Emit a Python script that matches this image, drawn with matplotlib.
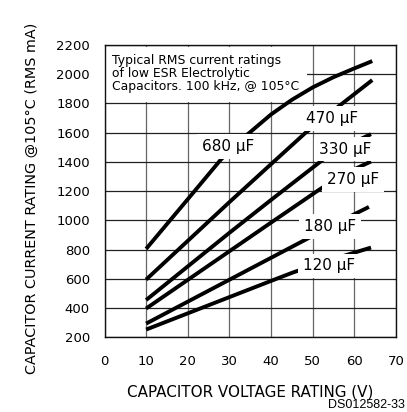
import matplotlib
matplotlib.use("Agg")
import matplotlib.pyplot as plt
from matplotlib.patches import Rectangle

plt.rcParams['font.family'] = ['DejaVu Sans']

# Ripple-current rating curves (voltage in V, current in mA RMS)
v_680 = [10, 20, 28, 34, 40, 45, 50, 55, 60, 64.3]
i_680 = [805, 1145, 1418, 1580, 1725, 1825, 1910, 1980, 2040, 2090]

v_470 = [10, 20, 30, 40, 48.3, 56.4, 64.3]
i_470 = [595, 860, 1125, 1385, 1600, 1784, 1960]

v_330 = [10, 20, 30, 40, 52.3, 58, 64]
i_330 = [455, 685, 915, 1140, 1412, 1510, 1590]

v_270 = [10, 20, 30, 40, 51.4, 57, 64]
i_270 = [397, 593, 789, 985, 1207, 1310, 1403]

v_180 = [10, 20, 30, 40, 48.8, 56, 63.5]
i_180 = [294, 444, 594, 744, 876, 985, 1092]

v_120 = [10, 20, 30, 40, 45.2, 52, 58.7, 64]
i_120 = [253, 364, 475, 586, 643, 710, 768, 814]

curve_labels = ["680 \u00b5F", "470 \u00b5F", "330 \u00b5F", "270 \u00b5F", "180 \u00b5F", "120 \u00b5F"]
label_pos = [(29.7, 1505), (54.6, 1695), (57.8, 1488), (59.7, 1282), (54.2, 957), (54.0, 688)]

x_ticks = [0, 10, 20, 30, 40, 50, 60, 70]
y_ticks = [200, 400, 600, 800, 1000, 1200, 1400, 1600, 1800, 2000, 2200]

fig = plt.figure(figsize=(4.07, 4.12), dpi=100)
ax = fig.add_axes([104.5 / 407, 1 - 337.3 / 412, 291.5 / 407, 292.3 / 412])

ax.set_xlim(0, 70)
ax.set_ylim(200, 2200)
ax.set_xticks(x_ticks)
ax.set_yticks(y_ticks)
ax.tick_params(axis="y", length=0, labelsize=9.5, pad=10.5)
ax.tick_params(axis="x", length=0, labelsize=9.5, pad=13)
ax.xaxis.grid(True, color="#666666", lw=0.9, zorder=1)
ax.yaxis.grid(True, color="#222222", lw=0.9, zorder=1)
ax.set_axisbelow(True)
for s in ax.spines.values():
    s.set_linewidth(1.0)
    s.set_color("#111111")

series = [(v_680, i_680), (v_470, i_470), (v_330, i_330),
          (v_270, i_270), (v_180, i_180), (v_120, i_120)]
for v, i in series:
    ax.plot(v, i, color="black", lw=2.8, solid_capstyle="butt", zorder=3)

# White panel behind the note in the upper left corner
ax.add_patch(Rectangle((0.2, 1808), 48.4, 380, facecolor="white",
                       edgecolor="none", zorder=2))
ax.text(1.8, 2140, "Typical RMS current ratings\nof low ESR Electrolytic\nCapacitors. 100 kHz, @ 105\u00b0C",
        fontsize=8.9, va="top", ha="left", linespacing=1.02, zorder=5)

for txt, (x, y) in zip(curve_labels, label_pos):
    ax.text(x, y, txt, fontsize=11, ha="center", va="center", zorder=6,
            bbox=dict(facecolor="white", edgecolor="none", pad=3.5))

ax.set_xlabel("CAPACITOR VOLTAGE RATING (V)", fontsize=10.9)
ax.xaxis.set_label_coords(0.5, -(392 - 337.3) / 292.3, transform=ax.transAxes)
ax.xaxis.label.set_va("center")
ax.set_ylabel("CAPACITOR CURRENT RATING @105\u00b0C (RMS mA)", fontsize=10.4)
ax.yaxis.set_label_coords(-(104.5 - 32) / 291.5, (337.3 - 198) / 292.3, transform=ax.transAxes)
ax.yaxis.label.set_va("center")

fig.text(405 / 407, 1.5 / 412, "DS012582-33", fontsize=9, ha="right",
         va="bottom", family="Liberation Sans")

fig.savefig("out.png", dpi=100)
